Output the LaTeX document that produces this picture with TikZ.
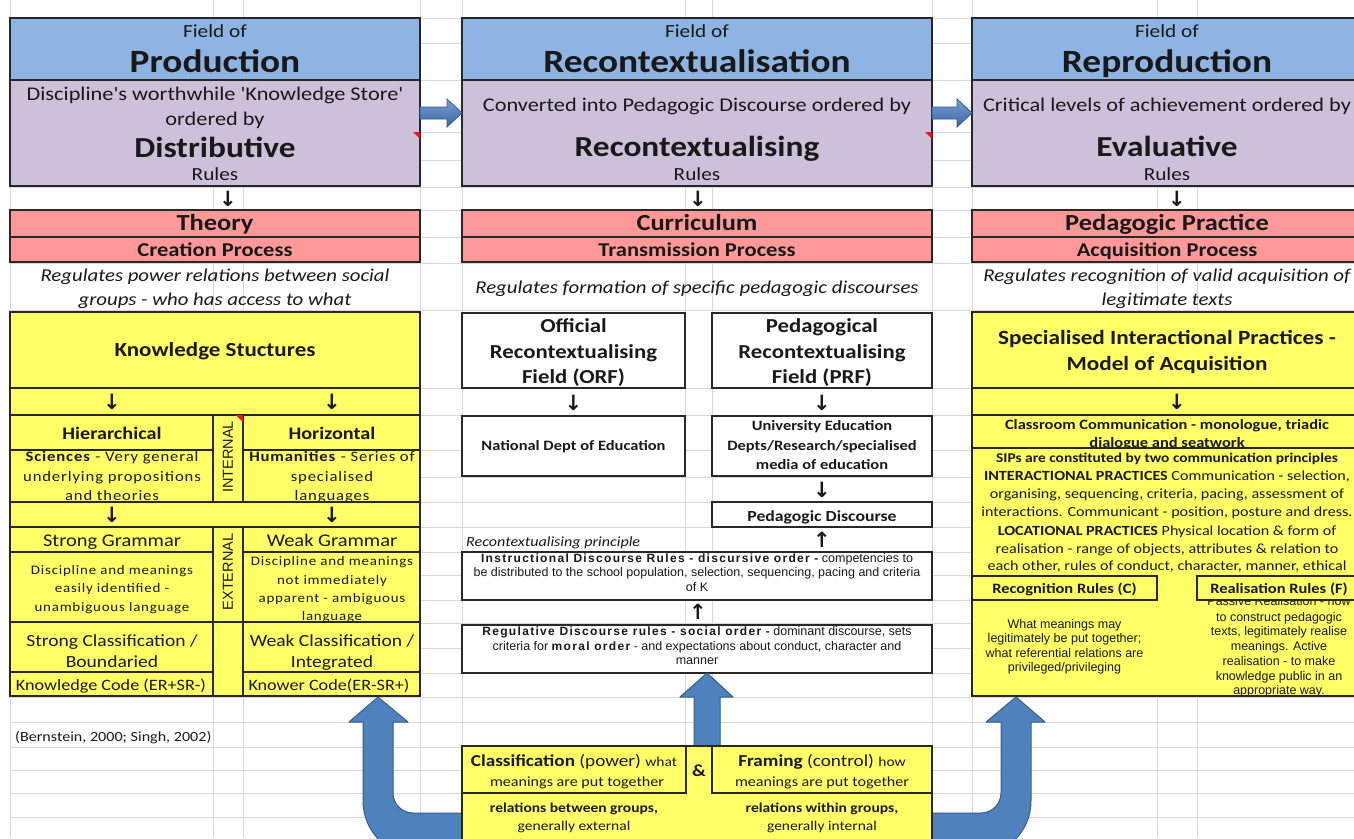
\documentclass[tikz,border=0pt]{standalone}
\usepackage{fontspec}
\setmainfont{Carlito}[FakeStretch=1.15,Ligatures=TeXOff]
\newfontfamily\spc{Carlito}[FakeStretch=1.15,LetterSpace=6,Ligatures=TeXOff]
\newfontfamily\arl{Liberation Sans}
\newfontfamily\arlsp{Liberation Sans}[LetterSpace=11]
\newfontfamily\dvs{DejaVu Sans}
\newcommand\sz[1]{\fontsize{#1}{#1}\selectfont}

\definecolor{hdrblue}{RGB}{141,180,226}
\definecolor{lilac}{RGB}{204,192,218}
\definecolor{rose}{RGB}{255,153,153}
\definecolor{ylw}{RGB}{255,255,102}
\definecolor{gridgray}{RGB}{216,216,216}
\definecolor{arrowblue}{RGB}{79,129,189}
\definecolor{arrowedge}{RGB}{56,93,138}
\definecolor{edge}{RGB}{40,40,40}
\definecolor{ink}{RGB}{25,25,25}
\definecolor{flag}{RGB}{240,20,20}

\tikzset{
  cell/.style n args={4}{anchor=north west, at={(#1,#2)},
    minimum width={#3-#1}, minimum height={#4-#2},
    inner sep=0pt, outer sep=0pt, draw=edge, line width=1.5pt},
  panel/.style={line width=2.6pt},
  txt/.style={anchor=base, inner sep=0pt, text=ink},
  glyph/.style={inner sep=0pt, text=ink, font=\dvs\bfseries\sz{21}},
  vlabel/.style={inner sep=0pt, rotate=90, text=ink, font=\arl\sz{14.5}},
  gridline/.style={draw=gridgray, line width=1pt},
  blockarrow/.style={fill=arrowblue, draw=arrowedge, line width=1pt, line join=round},
  flatarrow/.style={top color={rgb,255:red,120;green,160;blue,212}, bottom color={rgb,255:red,60;green,100;blue,160}, draw=arrowedge, line width=0.8pt},
}

\begin{document}
\begin{tikzpicture}[x=1pt,y=-1pt]
\useasboundingbox (0,0) rectangle (1354,838);
\clip (0,0) rectangle (1354,838);
\fill[white] (0,0) rectangle (1354,838);

% spreadsheet grid
\foreach \gx in {10,213,243,420,462,685,712,932,972,1157,1197}
  \draw[gridline] (\gx,0) -- (\gx,838);
\foreach \gy in {18,43,80,107,132,160,187,210,237,263,310,388,415,450,477,502,527,552,575,600,623,648,673,697,722,747,770,793,817}
  \draw[gridline] (10,\gy) -- (1354,\gy);

% ---------------- Field of Production ----------------
\node[cell={10}{18}{420}{80}, fill=hdrblue] (pHead) {};
\node[cell={10}{80}{420}{186}, fill=lilac] (pRule) {};
\node[cell={10}{210}{420}{237}, fill=rose] (pTheory) {};
\node[cell={10}{237}{420}{262}, fill=rose] (pCreate) {};
\node[txt, font=\sz{18.5}] (pField) at (215,37) {Field of};
\node[txt, font=\bfseries\sz{32.5}] (pTitle) at (215,72) {Production};
\node[txt, font=\sz{19.4}] (pStore) at (215,100) {Discipline's worthwhile 'Knowledge Store'};
\node[txt, font=\sz{19.4}] (pOrd) at (215,125) {ordered by};
\node[txt, font=\bfseries\sz{29}] (pDist) at (215,157) {Distributive};
\node[txt, font=\sz{18.5}] (pRules) at (215,180) {Rules};
\node[glyph] (pDown) at (228,199) {↓};
\node[txt, font=\bfseries\sz{23}] (pTheoryT) at (215,230) {Theory};
\node[txt, font=\bfseries\sz{19.6}] (pCreateT) at (215,256.5) {Creation Process};
\node[txt, font=\itshape\sz{18.1}] (pReg1) at (215,281.5) {Regulates power relations between social};
\node[txt, font=\itshape\sz{18.1}] (pReg2) at (215,305) {groups - who has access to what};

% knowledge structures panel
\node[cell={10}{312}{420}{696}, fill=ylw, draw=none] (ksPanel) {};
\node[cell={10}{312}{420}{388}] (ksTitle) {};
\node[cell={10}{388}{420}{415}] (ksArr1) {};
\node[cell={10}{415}{213}{450}] (ksHier) {};
\node[cell={10}{450}{213}{502}] (ksSci) {};
\node[cell={213}{415}{243}{502}] (ksInt) {};
\node[cell={243}{415}{420}{450}] (ksHor) {};
\node[cell={243}{450}{420}{502}] (ksHum) {};
\node[txt, font=\bfseries\sz{20}] (ksTitleT) at (215,356.5) {Knowledge Stuctures};
\node[glyph] (ksD1) at (112,402) {↓};
\node[glyph] (ksD2) at (332,402) {↓};
\node[txt, font=\bfseries\sz{17.6}] (ksHierT) at (112,439) {Hierarchical};
\node[txt, font=\bfseries\sz{17.6}] (ksHorT) at (332,439) {Horizontal};
\node[vlabel] (ksIntT) at (228,457) {INTERNAL};
\node[txt, font=\spc\sz{14.5}] (ksSci1) at (112,461.5) {\textbf{Sciences} - Very general};
\node[txt, font=\spc\sz{14.5}] (ksSci2) at (112,481.5) {underlying propositions};
\node[txt, font=\spc\sz{14.5}] (ksSci3) at (112,500) {and theories};
\node[txt, font=\spc\sz{14.5}] (ksHum1) at (332,461.5) {\textbf{Humanities} - Series of};
\node[txt, font=\spc\sz{14.5}] (ksHum2) at (332,481.5) {specialised};
\node[txt, font=\spc\sz{14.5}] (ksHum3) at (332,500) {languages};
\node[cell={10}{502}{420}{527}, fill=ylw] (ksArr2) {};
\node[glyph] (ksD3) at (112,515) {↓};
\node[glyph] (ksD4) at (332,515) {↓};
\node[cell={10}{527}{213}{552}] (ksSG) {};
\node[cell={10}{552}{213}{622}] (ksSGd) {};
\node[cell={213}{527}{243}{622}] (ksExt) {};
\node[cell={243}{527}{420}{552}] (ksWG) {};
\node[cell={243}{552}{420}{622}] (ksWGd) {};
\node[cell={10}{622}{213}{672}] (ksSC) {};
\node[cell={10}{672}{213}{696}] (ksKC) {};
\node[cell={243}{622}{420}{672}] (ksWC) {};
\node[cell={243}{672}{420}{696}] (ksKr) {};
\node[txt, font=\sz{17.8}] (ksSGT) at (112,546.5) {Strong Grammar};
\node[txt, font=\sz{17.8}] (ksWGT) at (332,546.5) {Weak Grammar};
\node[vlabel] (ksExtT) at (228,572) {EXTERNAL};
\node[txt, font=\spc\sz{13}] (ksSGd1) at (112,574.3) {Discipline and meanings};
\node[txt, font=\spc\sz{13}] (ksSGd2) at (112,592.7) {easily identified -};
\node[txt, font=\spc\sz{13}] (ksSGd3) at (112,611) {unambiguous language};
\node[txt, font=\spc\sz{13}] (ksWGd1) at (332,565.7) {Discipline and meanings};
\node[txt, font=\spc\sz{13}] (ksWGd2) at (332,584) {not immediately};
\node[txt, font=\spc\sz{13}] (ksWGd3) at (332,602.3) {apparent - ambiguous};
\node[txt, font=\spc\sz{13}] (ksWGd4) at (332,620) {language};
\node[txt, font=\sz{17}] (ksSC1) at (112,646.7) {Strong Classification /};
\node[txt, font=\sz{17}] (ksSC2) at (112,667.7) {Boundaried};
\node[txt, font=\sz{17}] (ksWC1) at (332,646.7) {Weak Classification /};
\node[txt, font=\sz{17}] (ksWC2) at (332,667.7) {Integrated};
\node[txt, font=\sz{15.8}] (ksKCT) at (111,690.7) {Knowledge Code (ER+SR-)};
\node[txt, font=\sz{15.8}] (ksKrT) at (329,690.7) {Knower Code(ER-SR+)};
\node[cell={10}{312}{420}{696}, panel] (ksFrame) {};
\node[txt, anchor=base west, font=\sz{14}] (cite) at (15,741) {(Bernstein, 2000; Singh, 2002)};

% ---------------- Field of Recontextualisation ----------------
\node[cell={462}{18}{932}{80}, fill=hdrblue] (rHead) {};
\node[cell={462}{80}{932}{186}, fill=lilac] (rRule) {};
\node[cell={462}{210}{932}{237}, fill=rose] (rCurr) {};
\node[cell={462}{237}{932}{262}, fill=rose] (rTrans) {};
\node[txt, font=\sz{18.5}] (rField) at (697,37) {Field of};
\node[txt, font=\bfseries\sz{32.5}] (rTitle) at (697,72) {Recontextualisation};
\node[txt, font=\sz{19.4}] (rConv) at (697,111.7) {Converted into Pedagogic Discourse ordered by};
\node[txt, font=\bfseries\sz{29}] (rRec) at (697,156.7) {Recontextualising};
\node[txt, font=\sz{18.5}] (rRules) at (697,180) {Rules};
\node[glyph] (rDown) at (698,199) {↓};
\node[txt, font=\bfseries\sz{23}] (rCurrT) at (697,230) {Curriculum};
\node[txt, font=\bfseries\sz{19.6}] (rTransT) at (697,256.5) {Transmission Process};
\node[txt, font=\itshape\sz{18.1}] (rReg) at (697,293) {Regulates formation of specific pedagogic discourses};

\node[cell={462}{313}{685}{388}, fill=white] (orf) {};
\node[cell={712}{313}{932}{388}, fill=white] (prf) {};
\node[txt, font=\bfseries\sz{19.8}] (orf1) at (573.5,332.3) {Official};
\node[txt, font=\bfseries\sz{19.8}] (orf2) at (573.5,358.3) {Recontextualising};
\node[txt, font=\bfseries\sz{19.8}] (orf3) at (573.5,383.3) {Field (ORF)};
\node[txt, font=\bfseries\sz{19.8}] (prf1) at (822,332.3) {Pedagogical};
\node[txt, font=\bfseries\sz{19.8}] (prf2) at (822,358.3) {Recontextualising};
\node[txt, font=\bfseries\sz{19.8}] (prf3) at (822,383.3) {Field (PRF)};
\node[glyph] (orfD) at (573.5,403) {↓};
\node[glyph] (prfD) at (822,403) {↓};
\node[cell={462}{416}{685}{476}, fill=white] (nde) {};
\node[cell={712}{416}{932}{476}, fill=white] (ued) {};
\node[txt, font=\bfseries\sz{14.3}] (ndeT) at (573.5,450.7) {National Dept of Education};
\node[txt, font=\bfseries\sz{14.3}] (ued1) at (822,430.7) {University Education};
\node[txt, font=\bfseries\sz{14.3}] (ued2) at (822,450.7) {Depts/Research/specialised};
\node[txt, font=\bfseries\sz{14.3}] (ued3) at (822,469.3) {media of education};
\node[glyph] (uedD) at (822,490) {↓};
\node[cell={712}{502}{932}{527}, fill=white] (pd) {};
\node[txt, font=\bfseries\sz{15.4}] (pdT) at (822,521) {Pedagogic Discourse};
\node[txt, anchor=base west, font=\itshape\sz{14}] (rPrin) at (466,546) {Recontextualising principle};
\node[glyph] (pdU) at (822,540) {↑};
\node[cell={462}{552}{932}{600}, fill=white] (idr) {};
\node[txt, font=\arl\sz{12.5}] (idr1) at (697,562.3) {{\arlsp\bfseries\sz{12}Instructional Discourse Rules - discursive order -} competencies to};
\node[txt, font=\arl\sz{12.5}] (idr2) at (697,576.7) {be distributed to the school population, selection, sequencing, pacing and criteria};
\node[txt, font=\arl\sz{12.5}] (idr3) at (697,591) {of K};
\node[glyph] (idrU) at (698,612) {↑};
\node[cell={462}{625}{932}{673}, fill=white] (rdr) {};
\node[txt, font=\arl\sz{12.5}] (rdr1) at (697,635) {{\arlsp\bfseries\sz{12}Regulative Discourse rules - social order -} dominant discourse, sets};
\node[txt, font=\arl\sz{12.5}] (rdr2) at (697,650) {criteria for {\arlsp\bfseries\sz{12}moral order} - and expectations about conduct, character and};
\node[txt, font=\arl\sz{12.5}] (rdr3) at (697,664) {manner};

% ---------------- Field of Reproduction ----------------
\node[cell={972}{18}{1362}{80}, fill=hdrblue] (eHead) {};
\node[cell={972}{80}{1362}{186}, fill=lilac] (eRule) {};
\node[cell={972}{210}{1362}{237}, fill=rose] (ePed) {};
\node[cell={972}{237}{1362}{262}, fill=rose] (eAcq) {};
\node[txt, font=\sz{18.5}] (eField) at (1167,37) {Field of};
\node[txt, font=\bfseries\sz{32.5}] (eTitle) at (1167,72) {Reproduction};
\node[txt, font=\sz{19.4}] (eCrit) at (1167,111.7) {Critical levels of achievement ordered by};
\node[txt, font=\bfseries\sz{29}] (eEval) at (1167,156.7) {Evaluative};
\node[txt, font=\sz{18.5}] (eRules) at (1167,180) {Rules};
\node[glyph] (eDown) at (1177,199) {↓};
\node[txt, font=\bfseries\sz{23}] (ePedT) at (1167,230) {Pedagogic Practice};
\node[txt, font=\bfseries\sz{19.6}] (eAcqT) at (1167,256.5) {Acquisition Process};
\node[txt, font=\itshape\sz{18.1}] (eReg1) at (1167,281.7) {Regulates recognition of valid acquisition of};
\node[txt, font=\itshape\sz{18.1}] (eReg2) at (1167,305) {legitimate texts};

\node[cell={972}{312}{1362}{696}, fill=ylw, draw=none] (sipPanel) {};
\node[cell={972}{312}{1362}{388}] (sipTitle) {};
\node[cell={972}{388}{1362}{415}] (sipArr) {};
\node[cell={972}{415}{1362}{448}] (sipClass) {};
\node[txt, font=\bfseries\sz{20.2}] (sipT1) at (1167,344.3) {Specialised Interactional Practices -};
\node[txt, font=\bfseries\sz{20.2}] (sipT2) at (1167,370) {Model of Acquisition};
\node[glyph] (sipD) at (1177,402) {↓};
\node[txt, font=\bfseries\sz{14.3}] (sipC1) at (1167,429.3) {Classroom Communication - monologue, triadic};
\node[txt, font=\bfseries\sz{14.3}] (sipC2) at (1167,447.3) {dialogue and seatwork};
\node[cell={972}{448}{1362}{696}, fill=ylw, draw=none] (sipBody) {};
\draw[edge, line width=1.5pt] (sipBody.north west) -- (sipBody.north east);
\node[txt, font=\bfseries\sz{13.4}] (sip1) at (1167,462.7) {SIPs are constituted by two communication principles};
\node[txt, font=\sz{14}] (sip2) at (1167,480.7) {\textbf{INTERACTIONAL PRACTICES} Communication - selection,};
\node[txt, font=\sz{14}] (sip3) at (1167,498.3) {organising, sequencing, criteria, pacing, assessment of};
\node[txt, font=\sz{14}] (sip4) at (1167,516.7) {interactions. Communicant - position, posture and dress.};
\node[txt, font=\sz{14}] (sip5) at (1167,535) {\textbf{LOCATIONAL PRACTICES} Physical location \& form of};
\node[txt, font=\sz{14}] (sip6) at (1167,553.3) {realisation - range of objects, attributes \& relation to};
\node[txt, font=\sz{14}] (sip7) at (1167,570.7) {each other, rules of conduct, character, manner, ethical};
\node[txt, font=\arl\sz{12.5}] (rec1) at (1064.5,628.3) {What meanings may};
\node[txt, font=\arl\sz{12.5}] (rec2) at (1064.5,642.3) {legitimately be put together;};
\node[txt, font=\arl\sz{12.5}] (rec3) at (1064.5,657.3) {what referential relations are};
\node[txt, font=\arl\sz{12.5}] (rec4) at (1064.5,671.7) {privileged/privileging};
\node[txt, font=\arl\sz{12.5}] (real1) at (1279,605.7) {Passive Realisation - how};
\node[txt, font=\arl\sz{12.5}] (real2) at (1279,621.7) {to construct pedagogic};
\node[txt, font=\arl\sz{12.5}] (real3) at (1279,635.7) {texts, legitimately realise};
\node[txt, font=\arl\sz{12.5}] (real4) at (1279,650.7) {meanings. Active};
\node[txt, font=\arl\sz{12.5}] (real5) at (1279,665.7) {realisation - to make};
\node[txt, font=\arl\sz{12.5}] (real6) at (1279,680) {knowledge public in an};
\node[txt, font=\arl\sz{12.5}] (real7) at (1279,694) {appropriate way.};
\node[cell={972}{576}{1157}{600}, fill=ylw] (recBox) {};
\node[cell={1197}{576}{1362}{600}, fill=ylw] (realBox) {};
\node[txt, font=\bfseries\sz{14.3}] (recT) at (1064.5,593.3) {Recognition Rules (C)};
\node[txt, font=\bfseries\sz{14.3}] (realT) at (1279,593.3) {Realisation Rules (F)};
\node[cell={972}{312}{1362}{696}, panel] (sipFrame) {};

% comment markers
\fill[flag] (413,132) -- (420,132) -- (420,139) -- cycle;
\fill[flag] (925,132) -- (932,132) -- (932,139) -- cycle;
\fill[flag] (236,415) -- (243,415) -- (243,422) -- cycle;

% flow between the three fields
\path[flatarrow] (420,107) -- (447,107) -- (447,99) -- (462,113) -- (447,127) -- (447,119) -- (420,119) -- cycle;
\path[flatarrow] (932,107) -- (957,107) -- (957,99) -- (972,113) -- (957,127) -- (957,119) -- (932,119) -- cycle;

% classification and framing feed the three fields
\path[blockarrow] (378,697) -- (408,722) -- (393,722) -- (393,793)
  .. controls (393,804) and (402,813) .. (413,813) -- (462,813) -- (462,856) -- (418,856)
  .. controls (387.6,856) and (363,831.4) .. (363,801) -- (363,722) -- (349,722) -- cycle;
\path[blockarrow] (1016,697) -- (986,722) -- (1001,722) -- (1001,793)
  .. controls (1001,804) and (992,813) .. (981,813) -- (932,813) -- (932,856) -- (976,856)
  .. controls (1006.4,856) and (1031,831.4) .. (1031,801) -- (1031,722) -- (1045,722) -- cycle;
\path[blockarrow] (707,673) -- (733,697) -- (720,697) -- (720,750) -- (694,750) -- (694,697) -- (680,697) -- cycle;

\node[cell={462}{746}{932}{870}, fill=ylw, draw=none] (cfPanel) {};
\node[cell={462}{746}{686}{793}] (cfClass) {};
\node[cell={712}{746}{932}{793}] (cfFram) {};
\node[txt, font=\sz{16.7}] (cf1) at (574,766) {\textbf{Classification} (power) {\sz{13.5}what}};
\node[txt, font=\sz{14}] (cf2) at (577,786) {meanings are put together};
\node[txt, font=\bfseries\sz{17}] (cfAmp) at (699,776) {\&};
\node[txt, font=\sz{16.7}] (cf3) at (822,766) {\textbf{Framing} (control) {\sz{13.5}how}};
\node[txt, font=\sz{14}] (cf4) at (822,786) {meanings are put together};
\node[txt, font=\bfseries\sz{13.5}] (cf5) at (574,812.7) {relations between groups,};
\node[txt, font=\sz{13.5}] (cf6) at (574,830) {generally external};
\node[txt, font=\bfseries\sz{13.5}] (cf7) at (822,812.7) {relations within groups,};
\node[txt, font=\sz{13.5}] (cf8) at (822,830) {generally internal};
\node[cell={462}{746}{932}{870}, panel] (cfFrame) {};
\end{tikzpicture}
\end{document}
